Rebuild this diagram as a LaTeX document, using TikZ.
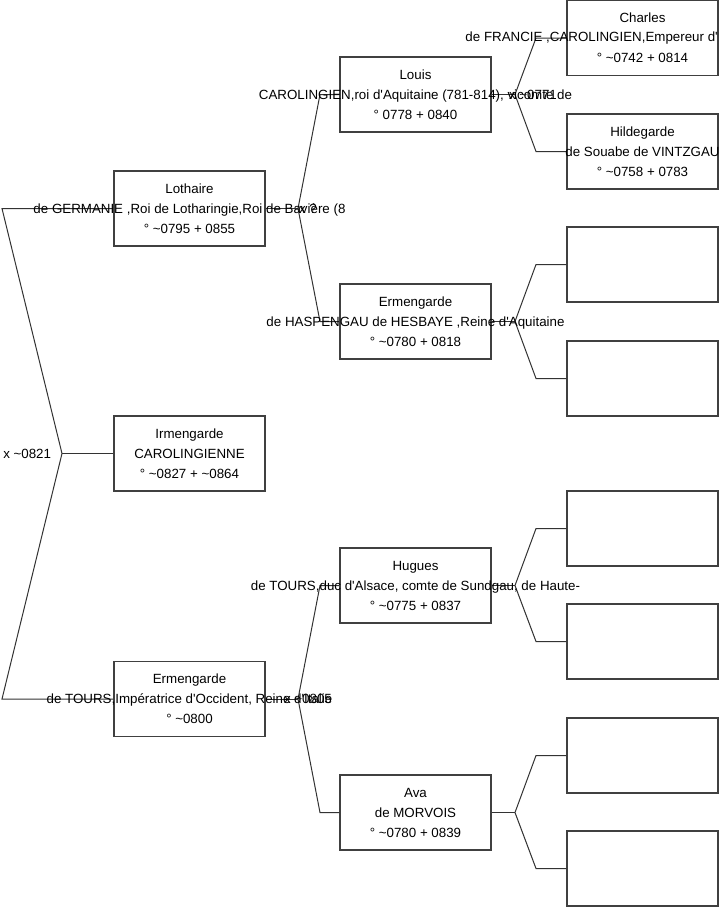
\documentclass[tikz,border=0pt]{standalone}
\usepackage{fontspec}
\setmainfont{Liberation Sans}
\newcommand{\apos}{\textquotesingle}
\begin{document}
\begin{tikzpicture}[x=0.75pt,y=-0.75pt,
  box/.style={draw=black!75,line width=0.8pt,minimum width=113.25pt,minimum height=56.25pt,inner sep=0pt},
  txt/.style={align=center,font=\fontsize{10}{15}\selectfont,inner sep=0pt},
  lbl/.style={font=\fontsize{10}{12}\selectfont,inner sep=0pt},
  link/.style={draw=black!80,line width=0.75pt}]
\useasboundingbox (0,0) rectangle (719,908);
% boxes
\node[box] (lothaire) at (189.5,208.5) {};
\node[box] (irm) at (189.5,453.5) {};
\node[box] (ermB) at (189.5,699) {};
\node[box] (louis) at (415.5,94.5) {};
\node[box] (ermH) at (415.5,321.5) {};
\node[box] (hugues) at (415.5,585.5) {};
\node[box] (ava) at (415.5,812.5) {};
\node[box] (charles) at (642.5,38) {};
\node[box] (hild) at (642.5,151.5) {};
\node[box] (e1) at (642.5,264.5) {};
\node[box] (e2) at (642.5,378.5) {};
\node[box] (e3) at (642.5,528.5) {};
\node[box] (e4) at (642.5,641.5) {};
\node[box] (e5) at (642.5,755.5) {};
\node[box] (e6) at (642.5,868.5) {};
% fork coordinates
\coordinate (v0) at (62,453.5); \coordinate (r0a) at (2,208.5); \coordinate (r0b) at (2,699);
\coordinate (v1) at (298,208.5); \coordinate (v1a) at (320,94.5); \coordinate (v1b) at (320,321.5);
\coordinate (v4) at (298,699); \coordinate (v4a) at (320,585.5); \coordinate (v4b) at (320,812.5);
\coordinate (v2) at (515,94.5); \coordinate (v2a) at (536,38); \coordinate (v2b) at (536,151.5);
\coordinate (v3) at (515,321.5); \coordinate (v3a) at (536,264.5); \coordinate (v3b) at (536,378.5);
\coordinate (v5) at (515,585.5); \coordinate (v5a) at (536,528.5); \coordinate (v5b) at (536,641.5);
\coordinate (v6) at (515,812.5); \coordinate (v6a) at (536,755.5); \coordinate (v6b) at (536,868.5);
% connectors
\draw[link] (lothaire.west) -- (r0a) -- (v0) -- (r0b) -- (ermB.west);
\draw[link] (v0) -- (irm.west);
\draw[link] (lothaire.east) -- (v1);
\draw[link] (louis.west) -- (v1a) -- (v1) -- (v1b) -- (ermH.west);
\draw[link] (ermB.east) -- (v4);
\draw[link] (hugues.west) -- (v4a) -- (v4) -- (v4b) -- (ava.west);
\draw[link] (louis.east) -- (v2);
\draw[link] (charles.west) -- (v2a) -- (v2) -- (v2b) -- (hild.west);
\draw[link] (ermH.east) -- (v3);
\draw[link] (e1.west) -- (v3a) -- (v3) -- (v3b) -- (e2.west);
\draw[link] (hugues.east) -- (v5);
\draw[link] (e3.west) -- (v5a) -- (v5) -- (v5b) -- (e4.west);
\draw[link] (ava.east) -- (v6);
\draw[link] (e5.west) -- (v6a) -- (v6) -- (v6b) -- (e6.west);
% texts
\node[txt] at (lothaire) {Lothaire\\de GERMANIE ,Roi de Lotharingie,Roi de Bavière (8\\° \textasciitilde0795 + 0855};
\node[txt] at (irm) {Irmengarde\\CAROLINGIENNE\\° \textasciitilde0827 + \textasciitilde0864};
\node[txt] at (ermB) {Ermengarde\\de TOURS,Impératrice d\apos Occident, Reine d\apos Italie\\° \textasciitilde0800};
\node[txt] at (louis) {Louis\\CAROLINGIEN,roi d\apos Aquitaine (781-814), vicomte de\\° 0778 + 0840};
\node[txt] at (ermH) {Ermengarde\\de HASPENGAU de HESBAYE ,Reine d\apos Aquitaine\\° \textasciitilde0780 + 0818};
\node[txt] at (hugues) {Hugues\\de TOURS,duc d\apos Alsace, comte de Sundgau, de Haute-\\° \textasciitilde0775 + 0837};
\node[txt] at (ava) {Ava\\de MORVOIS\\° \textasciitilde0780 + 0839};
\node[txt] at (642.5,18) {Charles};
\node[txt,anchor=east] at (718,38) {de FRANCIE ,CAROLINGIEN,Empereur d\apos};
\node[txt] at (642.5,58) {° \textasciitilde0742 + 0814};
\node[txt] at (hild) {Hildegarde\\de Souabe de VINTZGAU\\° \textasciitilde0758 + 0783};
% marriage labels
\node[lbl,anchor=west] (m0) at (3,453.5) {x \textasciitilde0821};
\node[lbl] (m1) at (308,208.5) {x ?};
\node[lbl] (m2) at (533,94.5) {x \textasciitilde0771};
\node[lbl] (m4) at (308,699) {x \textasciitilde0805};
\end{tikzpicture}
\end{document}
